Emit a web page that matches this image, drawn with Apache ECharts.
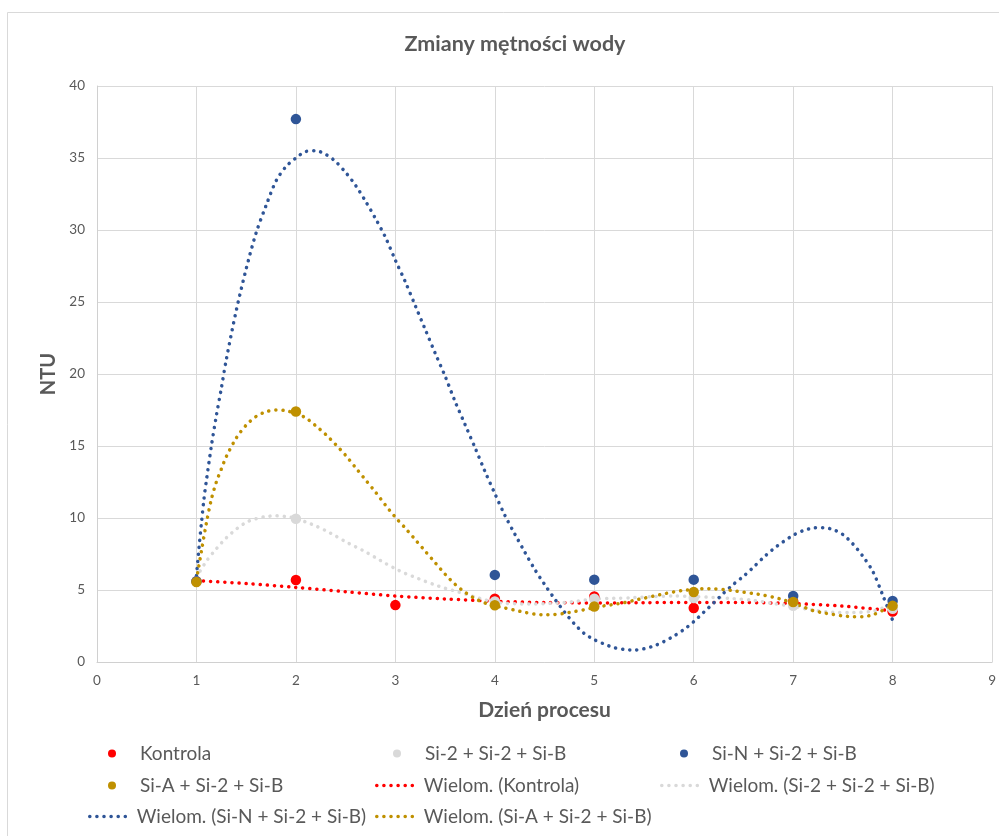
<!DOCTYPE html>
<html>
<head>
<meta charset="utf-8">
<script src="https://cdn.jsdelivr.net/npm/echarts@6/dist/echarts.min.js"></script>
<style>
html,body{margin:0;padding:0;background:#fff;}
#chart{width:999px;height:836px;}
</style>
</head>
<body>
<div id="chart"></div>
<script>
// ---- Data ----
const days = [1, 2, 3, 4, 5, 6, 7, 8];
const kontrola = [5.6, 5.7, 3.95, 4.4, 4.55, 3.75, 4.2, 3.5];
const si2 = [5.6, 9.95, null, 4.2, 4.4, 4.45, 3.9, 3.7];
const siN = [5.6, 37.7, null, 6.05, 5.72, 5.72, 4.58, 4.24];
const siA = [5.55, 17.4, null, 3.94, 3.85, 4.86, 4.17, 3.9];

// Trendline (Wielom.) curves: [day, NTU]
const trendKontrola = [[1,5.65],[1.5,5.45],[2,5.18],[2.5,4.88],[3,4.58],[3.5,4.38],[4,4.22],[4.5,4.13],[5,4.1],[5.5,4.12],[6,4.14],[6.5,4.13],[7,4.06],[7.5,3.88],[8,3.55]];
const trendSi2 = [[1,5.9],[1.1,7.0],[1.2,7.86],[1.3,8.62],[1.4,9.22],[1.5,9.7],[1.6,9.95],[1.7,10.1],[1.8,10.15],[1.9,10.1],[2,9.98],[2.1,9.72],[2.2,9.45],[2.3,9.12],[2.4,8.75],[2.5,8.35],[2.6,8.0],[2.7,7.65],[2.8,7.25],[2.9,6.85],[3,6.48],[3.1,6.15],[3.2,5.88],[3.3,5.6],[3.4,5.35],[3.5,5.12],[3.6,4.93],[3.7,4.73],[3.8,4.52],[3.9,4.32],[4,4.15],[4.1,4.08],[4.2,4.05],[4.3,4.02],[4.4,4.03],[4.5,4.05],[4.6,4.09],[4.7,4.13],[4.8,4.2],[4.9,4.3],[5,4.38],[5.2,4.42],[5.4,4.47],[5.6,4.55],[5.8,4.58],[6,4.55],[6.2,4.48],[6.4,4.4],[6.6,4.28],[6.8,4.06],[7,3.85],[7.2,3.6],[7.4,3.45],[7.6,3.43],[7.8,3.53],[7.9,3.75],[8,4.0]];
const trendSiN = [[1,6.0],[1.025,7.9],[1.05,9.65],[1.075,11.3],[1.1,12.6],[1.15,15.0],[1.2,17.1],[1.25,19.0],[1.3,21.0],[1.4,24.4],[1.5,27.3],[1.6,29.8],[1.7,31.7],[1.8,33.4],[1.9,34.4],[2,35.0],[2.1,35.45],[2.2,35.5],[2.3,35.25],[2.4,34.75],[2.5,34.0],[2.6,33.1],[2.7,32.0],[2.8,30.8],[2.9,29.5],[3,27.9],[3.1,26.4],[3.2,24.75],[3.3,23.1],[3.4,21.45],[3.5,19.85],[3.6,18.1],[3.7,16.5],[3.8,14.9],[3.9,13.25],[4,11.7],[4.1,10.2],[4.2,8.9],[4.3,7.65],[4.4,6.45],[4.5,5.39],[4.6,4.4],[4.7,3.48],[4.8,2.65],[4.9,1.98],[5,1.55],[5.1,1.25],[5.2,1.0],[5.3,0.87],[5.4,0.83],[5.5,0.92],[5.6,1.12],[5.7,1.42],[5.8,1.8],[5.9,2.25],[6,2.8],[6.1,3.45],[6.2,4.1],[6.3,4.78],[6.4,5.4],[6.5,5.95],[6.6,6.58],[6.7,7.25],[6.8,7.85],[6.9,8.35],[7,8.8],[7.1,9.12],[7.2,9.3],[7.3,9.33],[7.4,9.2],[7.5,8.85],[7.6,8.2],[7.7,7.35],[7.8,6.3],[7.9,4.65],[8,2.9]];
const trendSiA = [[1,5.7],[1.05,7.7],[1.1,9.65],[1.15,11.3],[1.2,12.5],[1.25,13.4],[1.3,14.26],[1.4,15.55],[1.5,16.45],[1.6,17.05],[1.7,17.38],[1.8,17.5],[1.9,17.45],[2,17.25],[2.1,16.95],[2.2,16.4],[2.3,15.8],[2.4,15.1],[2.5,14.35],[2.6,13.5],[2.7,12.65],[2.8,11.8],[2.9,10.9],[3,10.05],[3.1,9.3],[3.2,8.5],[3.3,7.7],[3.4,6.9],[3.5,6.1],[3.6,5.4],[3.7,4.85],[3.8,4.4],[3.9,4.1],[4,3.9],[4.1,3.75],[4.2,3.6],[4.3,3.45],[4.4,3.33],[4.5,3.28],[4.6,3.3],[4.7,3.38],[4.8,3.5],[4.9,3.63],[5,3.78],[5.1,3.9],[5.2,4.0],[5.3,4.12],[5.4,4.28],[5.5,4.43],[5.6,4.58],[5.7,4.73],[5.8,4.87],[5.9,4.97],[6,5.05],[6.1,5.09],[6.2,5.08],[6.3,5.03],[6.4,4.95],[6.5,4.85],[6.6,4.75],[6.7,4.64],[6.8,4.5],[6.9,4.32],[7,4.08],[7.1,3.83],[7.2,3.57],[7.3,3.42],[7.4,3.3],[7.5,3.2],[7.6,3.15],[7.7,3.15],[7.8,3.28],[7.9,3.58],[8,3.95]];

const names = ['Kontrola', 'Si-2 + Si-2 + Si-B', 'Si-N + Si-2 + Si-B', 'Si-A + Si-2 + Si-B'];
const trendNames = ['Wielom. (Kontrola)', 'Wielom. (Si-2 + Si-2 + Si-B)', 'Wielom. (Si-N + Si-2 + Si-B)', 'Wielom. (Si-A + Si-2 + Si-B)'];
const xTicks = { min: 0, max: 9, step: 1 };
const yTicks = { min: 0, max: 40, step: 5 };

// ---- Styling ----
const colors = ['#FF0000', '#D9D9D9', '#2F5597', '#BF9000'];
const FONT = 'Lato, "Open Sans", sans-serif';
const TXT = '#595959';
const DOTS = [0.1, 7];

function pairs(vals) {
  const out = [];
  days.forEach((d, i) => { if (vals[i] != null) out.push([d, vals[i]]); });
  return out;
}
const scatterVals = [kontrola, si2, siN, siA];
const trends = [trendKontrola, trendSi2, trendSiN, trendSiA];

const series = [];
trends.forEach((t, i) => {
  series.push({
    name: trendNames[i], type: 'line', data: t, smooth: 0.3,
    symbol: 'none', showSymbol: false, z: 2, silent: true,
    lineStyle: { color: colors[i], width: 3.5, type: DOTS, cap: 'round' },
    itemStyle: { color: colors[i] }
  });
});
scatterVals.forEach((v, i) => {
  series.push({
    name: names[i], type: 'scatter', data: pairs(v), symbol: 'circle', symbolSize: 10.5,
    z: 3, itemStyle: { color: colors[i], opacity: 1 }
  });
});

const legendText = { color: TXT, fontSize: 19, fontFamily: FONT };
function symLegend(name, cx, cy) {
  return { data: [name], left: cx - 4, top: cy - 11, icon: 'circle', itemWidth: 46, itemHeight: 8,
    symbolKeepAspect: true, textStyle: legendText, selectedMode: false, padding: 0 };
}
function lineLegend(name, x0, cy) {
  return { data: [name], left: x0, top: cy - 11, itemWidth: 42, itemHeight: 12,
    itemStyle: { opacity: 0 },
    lineStyle: { width: 3.5, type: DOTS, cap: 'round' },
    textStyle: legendText, selectedMode: false, padding: 0 };
}

const option = {
  backgroundColor: '#fff',
  animation: false,
  title: {
    text: 'Zmiany mętności wody', left: 510, top: 28, textAlign: 'center',
    textStyle: { color: TXT, fontSize: 21.5, fontWeight: 'bold', fontFamily: FONT }
  },
  grid: { left: 97, right: 6, top: 86, bottom: 174, containLabel: false },
  xAxis: {
    type: 'value', min: xTicks.min, max: xTicks.max, interval: xTicks.step,
    name: 'Dzień procesu', nameLocation: 'middle', nameGap: 38,
    nameTextStyle: { color: TXT, fontSize: 21, fontWeight: 'bold', fontFamily: FONT },
    axisLine: { show: true, lineStyle: { color: '#D0D0D0', width: 1 } },
    axisTick: { show: false },
    axisLabel: { color: TXT, fontSize: 13.5, fontFamily: FONT, margin: 12 },
    splitLine: { show: true, lineStyle: { color: '#D9D9D9', width: 1 } }
  },
  yAxis: {
    type: 'value', min: yTicks.min, max: yTicks.max, interval: yTicks.step,
    name: 'NTU', nameLocation: 'middle', nameGap: 38, nameRotate: 90,
    nameTextStyle: { color: TXT, fontSize: 20, fontWeight: 'bold', fontFamily: FONT },
    axisLine: { show: true, lineStyle: { color: '#D0D0D0', width: 1 } },
    axisTick: { show: false },
    axisLabel: { color: TXT, fontSize: 13.5, fontFamily: FONT, margin: 12 },
    splitLine: { show: true, lineStyle: { color: '#D9D9D9', width: 1 } }
  },
  legend: [
    symLegend(names[0], 112, 755),
    symLegend(names[1], 397, 755),
    symLegend(names[2], 684, 755),
    symLegend(names[3], 112, 787),
    lineLegend(trendNames[0], 375, 787),
    lineLegend(trendNames[1], 660, 787),
    lineLegend(trendNames[2], 88, 818),
    lineLegend(trendNames[3], 375, 818)
  ],
  graphic: [{
    type: 'rect', left: 5, top: 10, silent: true, z: -10,
    shape: { x: 0, y: 0, width: 1000, height: 830 },
    style: { fill: 'none', stroke: '#D9D9D9', lineWidth: 1 }
  }],
  series: series
};

const chart = echarts.init(document.getElementById('chart'), null, { renderer: 'canvas' });
chart.setOption(option);
</script>
</body>
</html>
